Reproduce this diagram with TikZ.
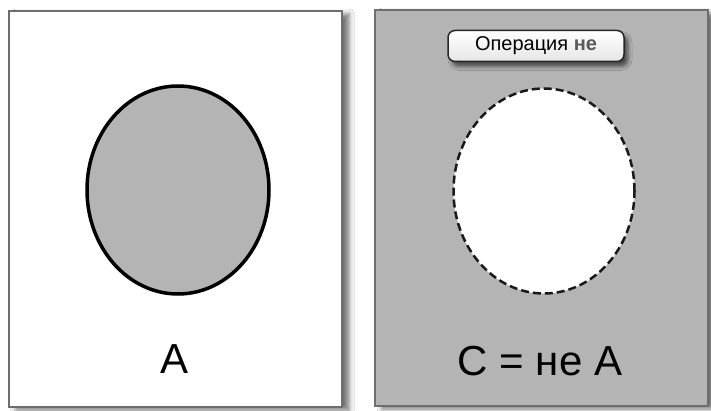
\documentclass[tikz,border=0pt]{standalone}
\usepackage{fontspec}
\setmainfont{Liberation Sans}
\usetikzlibrary{shapes.geometric,shadows.blur}
\definecolor{panelgray}{HTML}{B4B4B4}
\definecolor{edgegray}{HTML}{6E6E6E}
\definecolor{negray}{HTML}{5A5A5A}
\tikzset{
  panel/.style={draw=edgegray, line width=1.5pt, minimum width=333pt, minimum height=396pt, inner sep=0pt,
    blur shadow={shadow xshift=7pt, shadow yshift=-3pt, shadow blur radius=5pt, shadow opacity=55}},
  setshape/.style={ellipse, inner sep=0pt},
  biglabel/.style={font=\fontsize{42}{44}\selectfont, text=black},
  opbutton/.style={draw=black!85, line width=1.5pt, rounded corners=7pt, minimum width=176pt, minimum height=31pt,
    top color=white, bottom color=white!90!black, inner sep=0pt,
    blur shadow={shadow xshift=4pt, shadow yshift=-5pt, shadow blur radius=4pt, shadow opacity=60},
    font=\fontsize{20}{22}\selectfont}
}
\begin{document}
\begin{tikzpicture}[x=1pt,y=-1pt]
\useasboundingbox[fill=white] (0,0) rectangle (711,411);
\node[panel, fill=white] (leftpanel) at (175.5,209) {};
\node[panel, fill=panelgray] (rightpanel) at (541.5,208) {};
\node[setshape, draw=black, line width=3.5pt, fill=panelgray, minimum width=182pt, minimum height=208pt] (seta) at (178,190) {};
\node[setshape, draw=black!90, line width=2.5pt, dash pattern=on 8pt off 4pt, fill=white, minimum width=181pt, minimum height=205pt] (setc) at (544,191) {};
\node[biglabel] (labela) at (175,359) {A};
\node[biglabel] (labelc) at (540,361) {C = не A};
\node[opbutton] (op) at (536,46) {Операция \textbf{\textcolor{negray}{не}}};
\end{tikzpicture}
\end{document}
